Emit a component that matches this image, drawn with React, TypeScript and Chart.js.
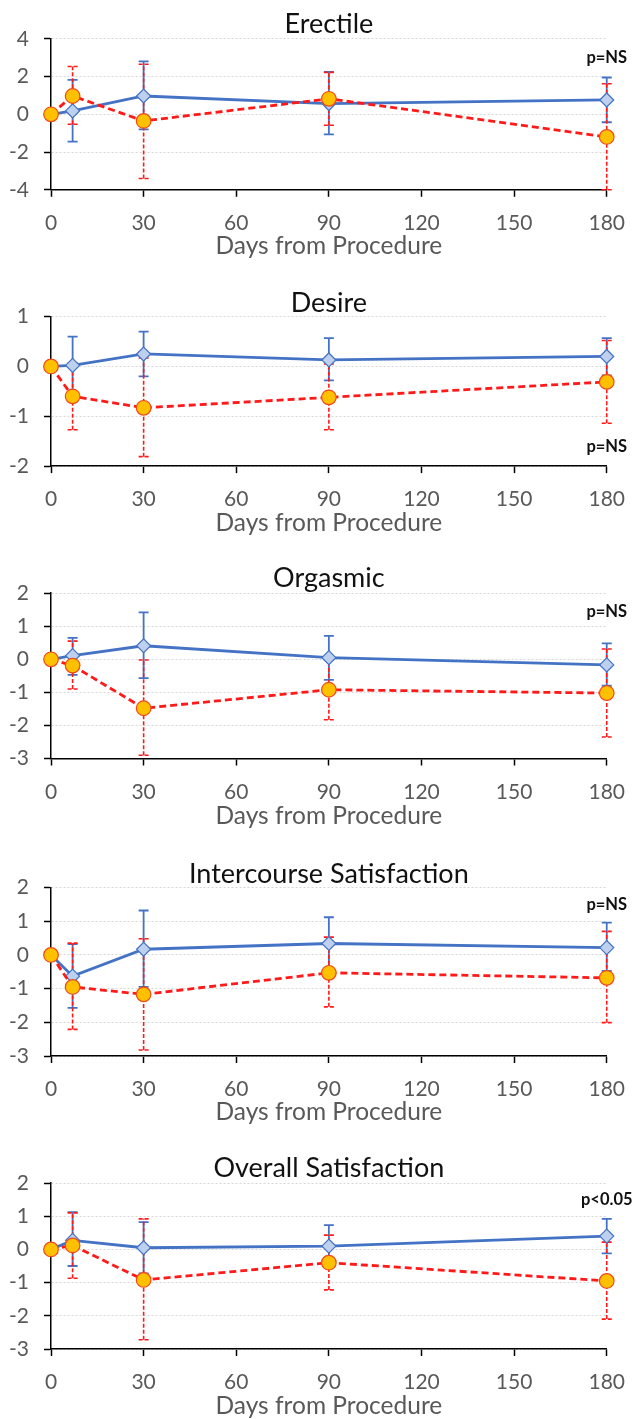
import React, { useEffect, useRef } from "react";
import { Chart, registerables } from "chart.js";

Chart.register(...registerables);

// ---------------- data ----------------
const days = [0, 7, 30, 90, 180];

const titles = ["Erectile", "Desire", "Orgasmic", "Intercourse Satisfaction", "Overall Satisfaction"];
const yMins = [-4, -2, -3, -3, -3];
const yMaxs = [4, 1, 2, 2, 2];
const ySteps = [2, 1, 1, 1, 1];
const pLabels = ["p=NS", "p=NS", "p=NS", "p=NS", "p<0.05"];
const pLabelValues = [3.0, -1.62, 1.45, 1.5, 1.5];
const xAxisTitle = "Days from Procedure";

// Erectile
const erectileBlue = [0, 0.18, 0.97, 0.57, 0.76];
const erectileBlueLow = [null, -1.45, -0.8, -1.06, -0.42];
const erectileBlueHigh = [null, 1.82, 2.8, 2.25, 1.95];
const erectileRed = [0, 0.97, -0.35, 0.82, -1.2];
const erectileRedLow = [null, -0.53, -3.4, -0.58, -4.0];
const erectileRedHigh = [null, 2.53, 2.65, 2.22, 1.62];

// Desire
const desireBlue = [0, 0.02, 0.25, 0.13, 0.2];
const desireBlueLow = [null, -0.55, -0.2, -0.28, -0.18];
const desireBlueHigh = [null, 0.6, 0.7, 0.57, 0.57];
const desireRed = [0, -0.6, -0.83, -0.62, -0.31];
const desireRedLow = [null, -1.27, -1.81, -1.27, -1.14];
const desireRedHigh = [null, 0.07, 0.17, 0.05, 0.52];

// Orgasmic
const orgasmicBlue = [0, 0.11, 0.41, 0.05, -0.17];
const orgasmicBlueLow = [null, -0.47, -0.57, -0.62, -0.8];
const orgasmicBlueHigh = [null, 0.65, 1.42, 0.71, 0.48];
const orgasmicRed = [0, -0.19, -1.48, -0.92, -1.02];
const orgasmicRedLow = [null, -0.9, -2.9, -1.83, -2.35];
const orgasmicRedHigh = [null, 0.55, -0.02, -0.02, 0.31];

// Intercourse Satisfaction
const intercourseBlue = [0, -0.63, 0.17, 0.34, 0.22];
const intercourseBlueLow = [null, -1.57, -0.95, -0.44, -0.47];
const intercourseBlueHigh = [null, 0.32, 1.32, 1.12, 0.96];
const intercourseRed = [0, -0.95, -1.17, -0.53, -0.68];
const intercourseRedLow = [null, -2.21, -2.82, -1.54, -2.01];
const intercourseRedHigh = [null, 0.35, 0.48, 0.53, 0.7];

// Overall Satisfaction
const overallBlue = [0, 0.27, 0.05, 0.1, 0.4];
const overallBlueLow = [null, -0.5, -0.72, -0.53, -0.12];
const overallBlueHigh = [null, 1.12, 0.82, 0.73, 0.92];
const overallRed = [0, 0.12, -0.92, -0.4, -0.95];
const overallRedLow = [null, -0.87, -2.72, -1.22, -2.1];
const overallRedHigh = [null, 1.1, 0.92, 0.43, 0.22];

const blueSeries = [erectileBlue, desireBlue, orgasmicBlue, intercourseBlue, overallBlue];
const blueLows = [erectileBlueLow, desireBlueLow, orgasmicBlueLow, intercourseBlueLow, overallBlueLow];
const blueHighs = [erectileBlueHigh, desireBlueHigh, orgasmicBlueHigh, intercourseBlueHigh, overallBlueHigh];
const redSeries = [erectileRed, desireRed, orgasmicRed, intercourseRed, overallRed];
const redLows = [erectileRedLow, desireRedLow, orgasmicRedLow, intercourseRedLow, overallRedLow];
const redHighs = [erectileRedHigh, desireRedHigh, orgasmicRedHigh, intercourseRedHigh, overallRedHigh];

// ---------------- layout (page pixels) ----------------
const PAGE_W = 639;
const PAGE_H = 1419;
const CHART_LEFT = 51;
const CHART_RIGHT = 612;
const TITLE_SIZE = 27;
const TICK_SIZE = 21;
const AXIS_TITLE_SIZE = 24.5;
const P_SIZE = 16.5;
const FONT = "Lato, 'Open Sans', sans-serif";

const geom = [
  { titleY: 24, top: 38.3, bottom: 189.3, axisTitleY: 245.5 },
  { titleY: 302, top: 315.6, bottom: 465.6, axisTitleY: 522.5 },
  { titleY: 578.5, top: 593.2, bottom: 758.5, axisTitleY: 816 },
  { titleY: 873.5, top: 887, bottom: 1056, axisTitleY: 1112 },
  { titleY: 1168.5, top: 1183, bottom: 1349, axisTitleY: 1405.5 },
];

const BLUE = "#4472C4";
const BLUE_FILL = "#BDD0EE";
const RED = "#FF1A1A";
const ORANGE = "#FFC000";

const errorBarPlugin = {
  id: "errorBars",
  beforeDatasetsDraw(chart: any) {
    const { ctx } = chart;
    const y = chart.scales.y;
    const cap = 5;
    for (const di of [1, 0]) {
      const ds: any = chart.data.datasets[di];
      const meta = chart.getDatasetMeta(di);
      ctx.save();
      ctx.strokeStyle = ds.errColor;
      ctx.lineWidth = ds.errWidth;
      ctx.setLineDash(ds.errDash);
      meta.data.forEach((pt: any, i: number) => {
        const lo = ds.errLow[i];
        const hi = ds.errHigh[i];
        if (lo == null || hi == null) return;
        const x = pt.x;
        const yl = y.getPixelForValue(lo);
        const yh = y.getPixelForValue(hi);
        ctx.beginPath();
        ctx.moveTo(x, yl);
        ctx.lineTo(x, yh);
        ctx.moveTo(x - cap, yl);
        ctx.lineTo(x + cap, yl);
        ctx.moveTo(x - cap, yh);
        ctx.lineTo(x + cap, yh);
        ctx.stroke();
      });
      ctx.restore();
    }
  },
};

const pLabelPlugin = {
  id: "pLabel",
  afterDatasetsDraw(chart: any, _args: any, opts: any) {
    const { ctx } = chart;
    const x = chart.scales.x.getPixelForValue(180);
    const y = chart.scales.y.getPixelForValue(opts.value);
    ctx.save();
    ctx.font = `bold ${P_SIZE}px ${FONT}`;
    ctx.fillStyle = "#111111";
    ctx.textAlign = "center";
    ctx.textBaseline = "middle";
    ctx.fillText(opts.text, x, y);
    ctx.restore();
  },
};

function Panel({ index }: { index: number }) {
  const ref = useRef<HTMLCanvasElement | null>(null);
  const g = geom[index];
  const canvasTop = g.titleY - TITLE_SIZE / 2;
  const canvasBottom = g.axisTitleY + AXIS_TITLE_SIZE / 2;
  const height = Math.round(canvasBottom - canvasTop);
  const titlePadBottom = Math.max(0, g.top - canvasTop - TITLE_SIZE);
  const xScaleHeight = canvasTop + height - g.bottom;

  useEffect(() => {
    if (!ref.current) return;
    const chart = new Chart(ref.current, {
      type: "line",
      data: {
        datasets: [
          {
            label: "red",
            data: days.map((d, i) => ({ x: d, y: redSeries[index][i] })),
            borderColor: RED,
            borderWidth: 2.8,
            borderDash: [7, 4],
            pointStyle: "circle",
            pointRadius: 7.3,
            pointBackgroundColor: ORANGE,
            pointBorderColor: "#F04A1A",
            pointBorderWidth: 1.2,
            tension: 0,
            clip: false,
            errLow: redLows[index],
            errHigh: redHighs[index],
            errColor: RED,
            errWidth: 1.6,
            errDash: [4, 2],
          } as any,
          {
            label: "blue",
            data: days.map((d, i) => ({ x: d, y: blueSeries[index][i] })),
            borderColor: BLUE,
            borderWidth: 2.8,
            pointStyle: "rectRot",
            pointRadius: 7,
            pointBackgroundColor: BLUE_FILL,
            pointBorderColor: BLUE,
            pointBorderWidth: 1.2,
            tension: 0,
            clip: false,
            errLow: blueLows[index],
            errHigh: blueHighs[index],
            errColor: BLUE,
            errWidth: 1.8,
            errDash: [],
          } as any,
        ],
      },
      options: {
        responsive: false,
        animation: false,
        layout: { padding: { left: 0, right: PAGE_W - CHART_RIGHT, top: 0, bottom: 0 } },
        plugins: {
          legend: { display: false },
          tooltip: { enabled: false },
          title: {
            display: true,
            text: titles[index],
            fullSize: false,
            color: "#111111",
            font: { family: FONT, size: TITLE_SIZE, weight: "normal", lineHeight: 1 },
            padding: { top: 0, bottom: titlePadBottom },
          },
          pLabel: { text: pLabels[index], value: pLabelValues[index] },
        } as any,
        scales: {
          x: {
            type: "linear",
            min: 0,
            max: 180,
            ticks: {
              stepSize: 30,
              color: "#595959",
              font: { family: FONT, size: TICK_SIZE },
              padding: 14,
              maxRotation: 0,
            },
            grid: {
              display: true,
              drawOnChartArea: false,
              drawTicks: true,
              tickLength: 7,
              tickColor: "#000000",
              tickWidth: 1.5,
            },
            border: { display: true, color: "#000000", width: 1.5 },
            title: {
              display: true,
              text: xAxisTitle,
              color: "#595959",
              font: { family: FONT, size: AXIS_TITLE_SIZE, lineHeight: 1 },
              padding: 0,
            },
            afterFit: (scale: any) => {
              scale.height = xScaleHeight;
            },
          },
          y: {
            type: "linear",
            min: yMins[index],
            max: yMaxs[index],
            ticks: {
              stepSize: ySteps[index],
              color: "#595959",
              font: { family: FONT, size: TICK_SIZE },
              padding: 15,
            },
            grid: {
              display: true,
              color: "#D6D6D6",
              lineWidth: 1,
              drawTicks: true,
              tickLength: 7,
              tickColor: "#000000",
              tickWidth: 1.5,
            },
            border: { display: true, color: "#000000", width: 1.5, dash: [2, 2] },
            afterFit: (scale: any) => {
              scale.width = CHART_LEFT;
            },
          },
        },
      },
      plugins: [errorBarPlugin, pLabelPlugin],
    });
    return () => chart.destroy();
  }, [index]);

  return (
    <canvas
      ref={ref}
      width={PAGE_W}
      height={height}
      style={{ position: "absolute", left: 0, top: canvasTop, width: PAGE_W, height }}
    />
  );
}

export default function App() {
  return (
    <div
      style={{
        position: "absolute",
        left: 0,
        top: 0,
        width: PAGE_W,
        height: PAGE_H,
        background: "#ffffff",
        overflow: "hidden",
      }}
    >
      {titles.map((_, i) => (
        <Panel key={i} index={i} />
      ))}
    </div>
  );
}
